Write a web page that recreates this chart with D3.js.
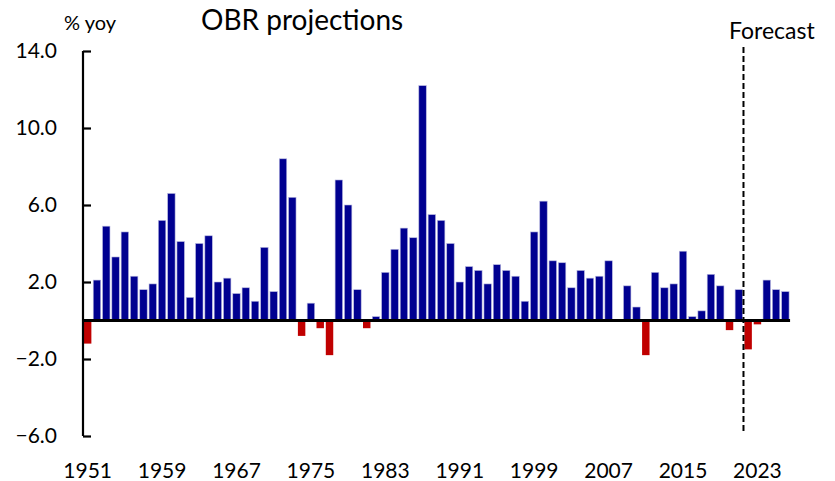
<!DOCTYPE html>
<html>
<head>
<meta charset="utf-8">
<script src="https://cdn.jsdelivr.net/npm/d3@7"></script>
<style>
  body { margin: 0; background: #fff; }
  text { font-family: Lato, "Open Sans", sans-serif; fill: #000; }
</style>
</head>
<body>
<svg id="chart" width="835" height="481"></svg>
<script>
// yoy growth, % (1951 - 2026), forecast from 2022
var years = d3.range(1951, 2027);
var growth = [
    -1.2, 2.1, 4.9, 3.3, 4.6, 2.3, 1.6, 1.9, 5.2, 6.6,
    4.1, 1.2, 4.0, 4.4, 2.0, 2.2, 1.4, 1.7, 1.0, 3.8,
    1.5, 8.4, 6.4, -0.8, 0.9, -0.4, -1.8, 7.3, 6.0, 1.6,
    -0.4, 0.2, 2.5, 3.7, 4.8, 4.3, 12.2, 5.5, 5.2, 4.0,
    2.0, 2.8, 2.6, 1.9, 2.9, 2.6, 2.3, 1.0, 4.6, 6.2,
    3.1, 3.0, 1.7, 2.6, 2.2, 2.3, 3.1, 0.0, 1.8, 0.7,
    -1.8, 2.5, 1.7, 1.9, 3.6, 0.2, 0.5, 2.4, 1.8, -0.5,
    1.6, -1.5, -0.2, 2.1, 1.6, 1.5
];
var yTicks = [-6, -2, 2, 6, 10, 14];
var xTickYears = [1951, 1959, 1967, 1975, 1983, 1991, 1999, 2007, 2015, 2023];
var forecastStart = 2022;

var svg = d3.select('#chart'),
    margin = {left: 83, right: 45, top: 51, bottom: 45};

var x = d3.scaleBand()
    .domain(years)
    .range([margin.left, 790])
    .paddingInner(0.2)
    .paddingOuter(0.1);

var y = d3.scaleLinear()
    .domain([-6, 14])
    .range([436, 51]);

// bars
svg.append('g')
    .selectAll('rect')
    .data(years.map(function (yr, i) { return {year: yr, value: growth[i]}; }))
    .enter().append('rect')
    .attr('x', function (d) { return x(d.year); })
    .attr('width', x.bandwidth())
    .attr('y', function (d) { return y(Math.max(0, d.value)); })
    .attr('height', function (d) { return Math.abs(y(d.value) - y(0)); })
    .attr('fill', function (d) { return d.value < 0 ? '#c00000' : '#000090'; })
    .attr('stroke', function (d) { return d.value < 0 ? 'none' : '#b8b8e0'; })
    .attr('stroke-width', 0.6);

// y axis
var yAxis = d3.axisRight(y)
    .tickValues(yTicks)
    .tickSize(8)
    .tickFormat('');
var yG = svg.append('g')
    .attr('transform', 'translate(' + margin.left + ',0)')
    .call(yAxis);
yG.select('.domain').remove();
yG.append('line')
    .attr('x1', 0).attr('x2', 0)
    .attr('y1', y(14)).attr('y2', y(-6))
    .attr('stroke', '#000').attr('stroke-width', 2.2);
yG.selectAll('.tick line').attr('stroke', '#000').attr('stroke-width', 2.2);

svg.append('g')
    .selectAll('text')
    .data(yTicks)
    .enter().append('text')
    .attr('x', 57)
    .attr('y', function (d) { return y(d); })
    .attr('dy', '0.35em')
    .attr('text-anchor', 'end')
    .style('font-size', '21px')
    .text(function (d) { return d3.format('.1f')(d); });

// zero line
svg.append('line')
    .attr('x1', margin.left).attr('x2', x(2026) + x.bandwidth() + 1)
    .attr('y1', y(0)).attr('y2', y(0))
    .attr('stroke', '#000').attr('stroke-width', 3);

// x labels
svg.append('g')
    .selectAll('text')
    .data(xTickYears)
    .enter().append('text')
    .attr('x', function (d) { return x(d) + x.bandwidth() / 2; })
    .attr('y', 478)
    .attr('text-anchor', 'middle')
    .style('font-size', '21px')
    .text(function (d) { return d; });

// forecast divider
var fx = x(forecastStart) - x.step() * x.paddingInner() / 2;
svg.append('line')
    .attr('x1', fx).attr('x2', fx)
    .attr('y1', 47).attr('y2', 434)
    .attr('stroke', '#000').attr('stroke-width', 2)
    .attr('stroke-dasharray', '6,3');
svg.append('text')
    .attr('x', 729).attr('y', 39)
    .style('font-size', '23px')
    .text('Forecast');

// titles
svg.append('text')
    .attr('x', 64).attr('y', 30)
    .style('font-size', '20px')
    .text('% yoy');
svg.append('text')
    .attr('x', 201).attr('y', 30)
    .style('font-size', '28px')
    .text('OBR projections');
</script>
</body>
</html>
